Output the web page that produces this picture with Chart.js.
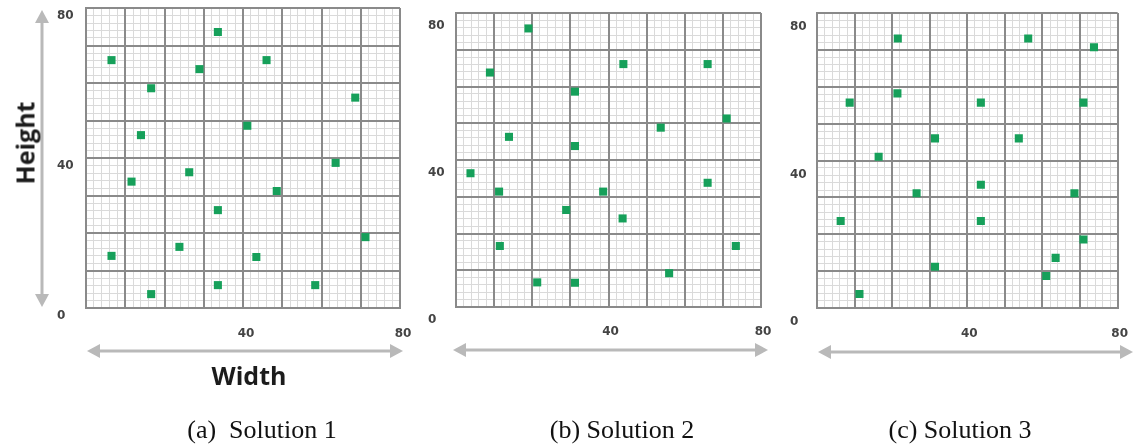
<!DOCTYPE html>
<html>
<head>
<meta charset="utf-8">
<script src="https://cdn.jsdelivr.net/npm/chart.js@4.4.0/dist/chart.umd.min.js"></script>
<style>
html,body{margin:0;padding:0;background:#fff;}
#wrap{position:relative;width:1145px;height:448px;overflow:hidden;background:#fff;}
canvas.c{position:absolute;left:0;top:0;}
svg{position:absolute;left:0;top:0;}
.t{position:absolute;white-space:pre;transform:translate(-50%,-50%);line-height:1;}
.ax{font-family:"Open Sans",sans-serif;font-weight:700;font-size:25px;color:#1c1c1c;}
.cap{font-family:"Liberation Serif","Times New Roman",serif;font-size:26px;color:#111;}
</style>
</head>
<body>
<div id="wrap">
<svg width="1145" height="448" id="arrows"></svg>
<canvas id="c1" class="c" width="1145" height="448"></canvas>
<canvas id="c2" class="c" width="1145" height="448"></canvas>
<canvas id="c3" class="c" width="1145" height="448"></canvas>
</div>
<script>
// ---- data ----
const captions = ['(a)  Solution 1', '(b) Solution 2', '(c) Solution 3'];
const axisTitles = ['Height', 'Width'];
const xTickLabels = [40, 80];
const yTickLabels = [0, 40, 80];

const sol1X = [33.6, 6.5, 46.0, 28.9, 16.6, 68.6, 41.1, 14.0, 63.6, 26.3, 11.6, 48.6, 33.6, 71.2, 23.8, 6.5, 43.4, 33.6, 58.4, 16.6];
const sol1Y = [73.6, 66.1, 66.1, 63.7, 58.6, 56.1, 48.6, 46.1, 38.7, 36.2, 33.7, 31.2, 26.1, 18.9, 16.3, 13.9, 13.6, 6.1, 6.1, 3.7];

const sol2X = [19.0, 8.9, 43.9, 66.0, 31.2, 71.0, 53.7, 13.9, 31.2, 3.8, 66.0, 11.3, 38.6, 28.9, 43.7, 11.5, 73.4, 55.9, 21.3, 31.2];
const sol2Y = [75.8, 63.8, 66.1, 66.1, 58.6, 51.3, 48.8, 46.3, 43.8, 36.4, 33.8, 31.4, 31.4, 26.4, 24.1, 16.6, 16.6, 9.2, 6.7, 6.6];

const sol3X = [21.5, 56.2, 73.7, 21.4, 8.7, 43.6, 70.9, 31.4, 53.7, 16.4, 43.6, 26.5, 68.5, 6.3, 43.6, 70.9, 63.5, 31.4, 61.0, 11.3];
const sol3Y = [73.1, 73.1, 70.7, 58.2, 55.7, 55.7, 55.7, 46.0, 46.0, 41.0, 33.4, 31.1, 31.1, 23.6, 23.6, 18.6, 13.6, 11.2, 8.7, 3.8];

// ---- layout / style ----
const W = 1145, H = 448;
const panels = [
  {id: 'c1', xs: sol1X, ys: sol1Y, area: {left: 86, right: 400, top: 8, bottom: 308}, labelLeft: 57, yOff: 8, xOff: 3, xPad: 19,
   hArrow: {y: 351, x1: 87, x2: 403}, cap: {x: 262, y: 430}},
  {id: 'c2', xs: sol2X, ys: sol2Y, area: {left: 456, right: 761, top: 13, bottom: 307}, labelLeft: 428, yOff: 13, xOff: 2, xPad: 18,
   hArrow: {y: 350, x1: 453, x2: 768}, cap: {x: 622, y: 430}},
  {id: 'c3', xs: sol3X, ys: sol3Y, area: {left: 817, right: 1128, top: 13, bottom: 308}, labelLeft: 790, yOff: 14, xOff: 2, xPad: 19,
   hArrow: {y: 352, x1: 818, x2: 1133}, cap: {x: 960, y: 430}}
];
const X_AXIS_H = 40;
const MAJOR = '#8a8a8a', MINOR = '#dadada', POINT = '#16a05a', TICK = '#444';
const tickFont = {family: 'DejaVu Sans', weight: 'bold', size: 12};

panels.forEach((p, i) => {
  const pts = p.xs.map((x, k) => ({x: x, y: p.ys[k]}));
  new Chart(document.getElementById(p.id), {
    type: 'scatter',
    data: {datasets: [{data: pts, pointStyle: 'rect', pointRadius: 5.7, pointHoverRadius: 5.7,
      backgroundColor: POINT, borderColor: POINT, borderWidth: 0}]},
    options: {
      responsive: false, animation: false, devicePixelRatio: 1,
      events: [],
      layout: {padding: {left: p.labelLeft, right: W - p.area.right, top: p.area.top, bottom: H - p.area.bottom - X_AXIS_H}},
      plugins: {legend: {display: false}, tooltip: {enabled: false}},
      scales: {
        xm: {type: 'linear', min: 0, max: 80, position: 'bottom',
          afterFit: s => { s.height = 0; },
          grid: {color: MINOR, lineWidth: 1, drawTicks: false, z: -2},
          border: {display: false},
          ticks: {display: false, stepSize: 2}},
        ym: {type: 'linear', min: 0, max: 80, position: 'left',
          afterFit: s => { s.width = 0; },
          grid: {color: MINOR, lineWidth: 1, drawTicks: false, z: -2},
          border: {display: false},
          ticks: {display: false, stepSize: 2}},
        x: {type: 'linear', min: 0, max: 80, position: 'bottom',
          afterFit: s => { s.height = X_AXIS_H; },
          grid: {color: MAJOR, lineWidth: 2, drawTicks: false},
          border: {display: true, color: MAJOR, width: 2},
          ticks: {stepSize: 10, autoSkip: false, maxRotation: 0, minRotation: 0, padding: p.xPad, labelOffset: p.xOff,
            font: tickFont, color: TICK,
            callback: v => xTickLabels.includes(v) ? String(v) : ''}},
        y: {type: 'linear', min: 0, max: 80, position: 'left',
          afterFit: s => { s.width = p.area.left - p.labelLeft; },
          grid: {color: MAJOR, lineWidth: 2, drawTicks: false},
          border: {display: true, color: MAJOR, width: 2},
          ticks: {stepSize: 10, autoSkip: false, padding: 0, labelOffset: p.yOff, crossAlign: 'far',
            font: tickFont, color: TICK,
            callback: v => yTickLabels.includes(v) ? String(v) : ''}}
      }
    }
  });
});

// ---- decorations: arrows, titles, captions ----
const wrap = document.getElementById('wrap');
const svg = document.getElementById('arrows');
const AR = '#b9b9b9';
function arrow(x1, y1, x2, y2) {
  const ns = 'http://www.w3.org/2000/svg';
  const dx = x2 - x1, dy = y2 - y1, len = Math.hypot(dx, dy);
  const ux = dx / len, uy = dy / len, nx = -uy, ny = ux;
  const hl = 13, hw = 7;
  const line = document.createElementNS(ns, 'line');
  line.setAttribute('x1', x1 + ux * hl); line.setAttribute('y1', y1 + uy * hl);
  line.setAttribute('x2', x2 - ux * hl); line.setAttribute('y2', y2 - uy * hl);
  line.setAttribute('stroke', AR); line.setAttribute('stroke-width', 3);
  svg.appendChild(line);
  [[x1, y1, 1], [x2, y2, -1]].forEach(([tx, ty, d]) => {
    const bx = tx + ux * hl * d, by = ty + uy * hl * d;
    const poly = document.createElementNS(ns, 'polygon');
    poly.setAttribute('points', `${tx},${ty} ${bx + nx * hw},${by + ny * hw} ${bx - nx * hw},${by - ny * hw}`);
    poly.setAttribute('fill', AR);
    svg.appendChild(poly);
  });
}
arrow(42, 10, 42, 307);
panels.forEach(p => arrow(p.hArrow.x1, p.hArrow.y, p.hArrow.x2, p.hArrow.y));

function text(str, cls, x, y, rot) {
  const d = document.createElement('div');
  d.className = 't ' + cls;
  d.textContent = str;
  d.style.left = x + 'px'; d.style.top = y + 'px';
  if (rot) d.style.transform = 'translate(-50%,-50%) rotate(' + rot + 'deg)';
  wrap.appendChild(d);
}
text(axisTitles[0], 'ax', 25, 143, -90);
text(axisTitles[1], 'ax', 249, 375);
panels.forEach((p, i) => text(captions[i], 'cap', p.cap.x, p.cap.y));
</script>
</body>
</html>
